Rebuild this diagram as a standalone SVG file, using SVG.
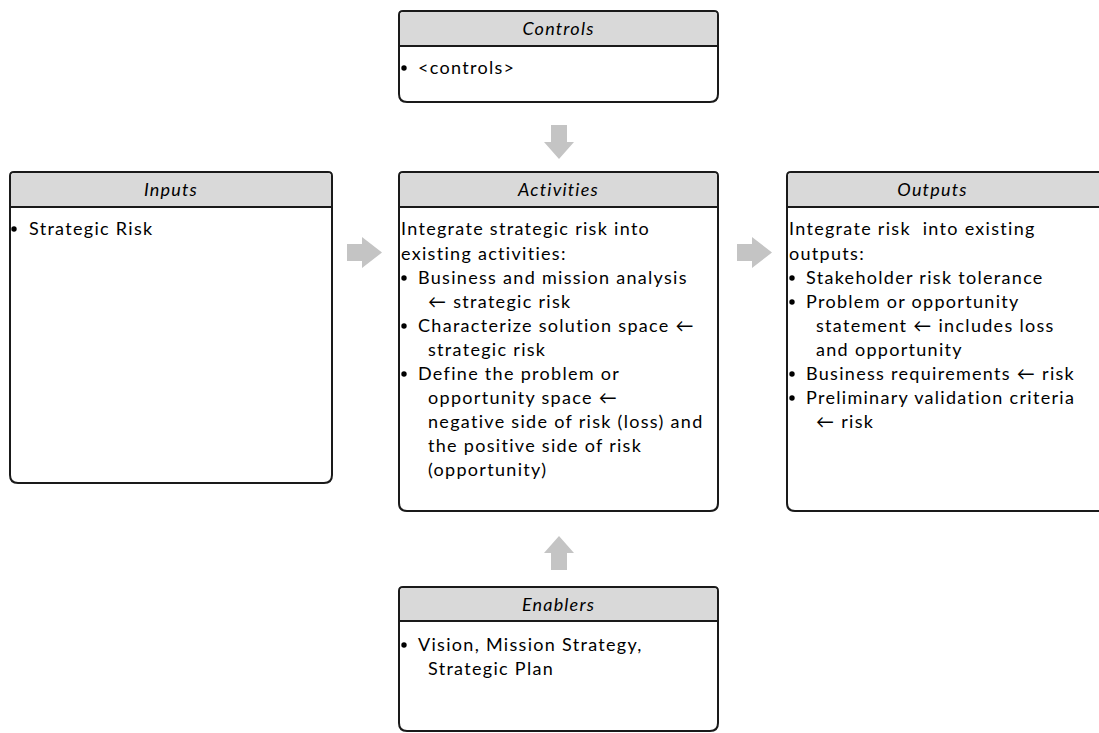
<svg xmlns="http://www.w3.org/2000/svg" width="1099" height="733" viewBox="0 0 1099 733">
  <style>
    .box { fill: #ffffff; stroke: #1a1a1a; stroke-width: 2; }
    .head { fill: #d9d9d9; }
    .rule { stroke: #1a1a1a; stroke-width: 2; }
    .title { font-family: Lato, "Open Sans", sans-serif; font-size: 18px; font-style: italic; letter-spacing: 1.2px; fill: #000; text-anchor: middle; }
    .body { font-family: Lato, "Open Sans", sans-serif; font-size: 18px; letter-spacing: 1.3px; fill: #000; }
    .dot { fill: #000; }
    .flow { fill: #c4c4c4; }
  </style>

  <!-- flow arrows between the boxes -->
  <g id="connectors">
    <polygon class="flow" points="347,244 362,244 362,237 382,252.5 362,268 362,261 347,261"/>
    <polygon class="flow" points="737,244 752,244 752,237 772,252.5 752,268 752,261 737,261"/>
    <polygon class="flow" points="551,125 567,125 567,142 574,142 559,159 544,142 551,142"/>
    <polygon class="flow" points="551,570 567,570 567,553 574,553 559,536 544,553 551,553"/>
  </g>

  <!-- Controls -->
  <g id="controls">
    <path class="box" d="M399,15 Q399,11 403,11 H714 Q718,11 718,15 V94 Q718,102 710,102 H407 Q399,102 399,94 Z"/>
    <path class="head" d="M400,46 V15 Q400,12 403,12 H714 Q717,12 717,15 V46 Z"/>
    <line class="rule" x1="399" y1="46" x2="718" y2="46"/>
    <text class="title" x="558.5" y="34.5">Controls</text>
    <circle class="dot" cx="404" cy="68" r="2.7"/>
    <text class="body" x="418" y="74">&lt;controls&gt;</text>
  </g>

  <!-- Inputs -->
  <g id="inputs">
    <path class="box" d="M10,176 Q10,172 14,172 H328 Q332,172 332,176 V475 Q332,483 324,483 H18 Q10,483 10,475 Z"/>
    <path class="head" d="M11,207 V176 Q11,173 14,173 H328 Q331,173 331,176 V207 Z"/>
    <line class="rule" x1="10" y1="207" x2="332" y2="207"/>
    <text class="title" x="171" y="195.5">Inputs</text>
    <circle class="dot" cx="14" cy="229" r="2.7"/>
    <text class="body" x="29" y="235">Strategic Risk</text>
  </g>

  <!-- Activities -->
  <g id="activities">
    <path class="box" d="M399,176 Q399,172 403,172 H714 Q718,172 718,176 V503 Q718,511 710,511 H407 Q399,511 399,503 Z"/>
    <path class="head" d="M400,207 V176 Q400,173 403,173 H714 Q717,173 717,176 V207 Z"/>
    <line class="rule" x1="399" y1="207" x2="718" y2="207"/>
    <text class="title" x="558.5" y="195.5">Activities</text>
    <text class="body" x="401" y="235">Integrate strategic risk into</text>
    <text class="body" x="401" y="260">existing activities:</text>
    <circle class="dot" cx="404" cy="278" r="2.7"/>
    <text class="body" x="418" y="284">Business and mission analysis</text>
    <text class="body" x="428" y="308">← strategic risk</text>
    <circle class="dot" cx="404" cy="326" r="2.7"/>
    <text class="body" x="418" y="332">Characterize solution space ←</text>
    <text class="body" x="428" y="356">strategic risk</text>
    <circle class="dot" cx="404" cy="374" r="2.7"/>
    <text class="body" x="418" y="380">Define the problem or</text>
    <text class="body" x="428" y="404">opportunity space ←</text>
    <text class="body" x="428" y="428">negative side of risk (loss) and</text>
    <text class="body" x="428" y="452">the positive side of risk</text>
    <text class="body" x="428" y="476">(opportunity)</text>
  </g>

  <!-- Outputs -->
  <g id="outputs">
    <path class="box" d="M787,176 Q787,172 791,172 H1102 Q1106,172 1106,176 V503 Q1106,511 1098,511 H795 Q787,511 787,503 Z"/>
    <path class="head" d="M788,207 V176 Q788,173 791,173 H1102 Q1105,173 1105,176 V207 Z"/>
    <line class="rule" x1="787" y1="207" x2="1106" y2="207"/>
    <text class="title" x="932.5" y="195.5">Outputs</text>
    <text class="body" x="789" y="235" xml:space="preserve">Integrate risk  into existing</text>
    <text class="body" x="789" y="260">outputs:</text>
    <circle class="dot" cx="792" cy="278" r="2.7"/>
    <text class="body" x="806" y="284">Stakeholder risk tolerance</text>
    <circle class="dot" cx="792" cy="302" r="2.7"/>
    <text class="body" x="806" y="308">Problem or opportunity</text>
    <text class="body" x="816" y="332">statement ← includes loss</text>
    <text class="body" x="816" y="356">and opportunity</text>
    <circle class="dot" cx="792" cy="374" r="2.7"/>
    <text class="body" x="806" y="380">Business requirements ← risk</text>
    <circle class="dot" cx="792" cy="398" r="2.7"/>
    <text class="body" x="806" y="404">Preliminary validation criteria</text>
    <text class="body" x="816" y="428">← risk</text>
  </g>

  <!-- Enablers -->
  <g id="enablers">
    <path class="box" d="M399,591 Q399,587 403,587 H714 Q718,587 718,591 V723 Q718,731 710,731 H407 Q399,731 399,723 Z"/>
    <path class="head" d="M400,621 V591 Q400,588 403,588 H714 Q717,588 717,591 V621 Z"/>
    <line class="rule" x1="399" y1="621" x2="718" y2="621"/>
    <text class="title" x="558.5" y="610.5">Enablers</text>
    <circle class="dot" cx="404" cy="645" r="2.7"/>
    <text class="body" x="418" y="651">Vision, Mission Strategy,</text>
    <text class="body" x="428" y="675">Strategic Plan</text>
  </g>
</svg>
